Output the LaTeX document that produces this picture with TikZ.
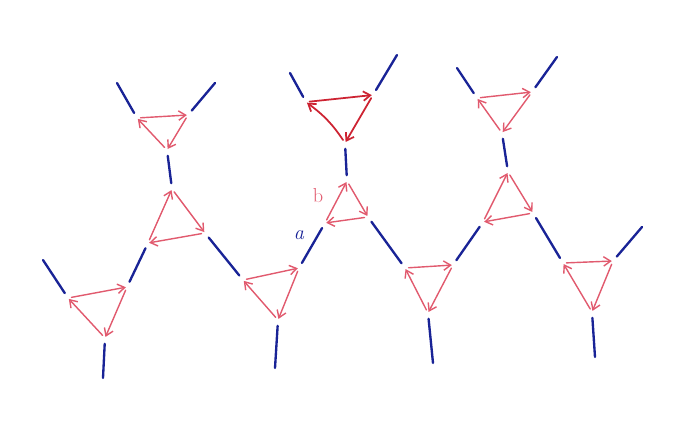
\documentclass[tikz,border=0pt]{standalone}
\usetikzlibrary{arrows.meta}
\definecolor{inkblue}{RGB}{25,35,150}
\definecolor{inkred}{RGB}{225,90,110}
\definecolor{inkdark}{RGB}{205,35,50}

\begin{document}
\begin{tikzpicture}[
  x=0.03cm, y=-0.03cm,
  >={Straight Barb[length=6pt,width=8pt]},
  leg/.style={draw=inkblue, line width=2pt, line cap=round,
              shorten <=5pt, shorten >=5pt},
  flow/.style={->, draw=#1, line width=1.2pt, line cap=round,
               shorten <=3pt, shorten >=1pt},
  flow/.default=inkred,
]
\useasboundingbox (0,0) rectangle (690,435);

% corners of the small triangles, in the order the arrows run
\coordinate (v1-a) at (137,118); \coordinate (v1-b) at (188,115); \coordinate (v1-c) at (167,150);
\coordinate (v2-a) at (148,243); \coordinate (v2-b) at (172,189); \coordinate (v2-c) at (205,233);
\coordinate (v3-a) at (68,298);  \coordinate (v3-b) at (127,287); \coordinate (v3-c) at (105,338);
\coordinate (v4-a) at (243,280); \coordinate (v4-b) at (299,268); \coordinate (v4-c) at (278,320);
\coordinate (v5-a) at (306,102); \coordinate (v5-b) at (373,95);  \coordinate (v5-c) at (345,143);
\coordinate (v6-a) at (325,223); \coordinate (v6-b) at (347,181); \coordinate (v6-c) at (368,217);
\coordinate (v7-a) at (405,268); \coordinate (v7-b) at (453,265); \coordinate (v7-c) at (428,313);
\coordinate (v8-a) at (477,98);  \coordinate (v8-b) at (532,92);  \coordinate (v8-c) at (502,133);
\coordinate (v9-a) at (483,222); \coordinate (v9-b) at (508,172); \coordinate (v9-c) at (533,213);
\coordinate (v10-a) at (563,263); \coordinate (v10-b) at (613,261); \coordinate (v10-c) at (592,312);

% loose ends of the outer legs
\coordinate (e1) at (117,83);  \coordinate (e2) at (215,83);
\coordinate (e3) at (43,260);  \coordinate (e4) at (103,378);
\coordinate (e5) at (275,368); \coordinate (e6) at (290,73);
\coordinate (e7) at (397,55);  \coordinate (e8) at (433,363);
\coordinate (e9) at (457,68);  \coordinate (e10) at (557,57);
\coordinate (e11) at (642,227); \coordinate (e12) at (595,357);

% red cycles
\foreach \tri in {v1,v2,v3,v4,v6,v7,v8,v9,v10}{
  \draw[flow] (\tri-a) -- (\tri-b);
  \draw[flow] (\tri-b) -- (\tri-c);
  \draw[flow] (\tri-c) -- (\tri-a);
}
\draw[flow=inkdark, line width=1.5pt] (v5-a) -- (v5-b);
\draw[flow=inkdark, line width=1.5pt] (v5-b) -- (v5-c);
\draw[flow=inkdark, line width=1.5pt] (v5-c) to[bend right=10] (v5-a);

% blue legs between triangles
\draw[leg] (v1-c) -- (v2-b);
\draw[leg] (v2-a) -- (v3-b);
\draw[leg] (v2-c) -- (v4-a);
\draw[leg] (v4-b) -- (v6-a);
\draw[leg] (v6-b) -- (v5-c);
\draw[leg] (v6-c) -- (v7-a);
\draw[leg] (v7-b) -- (v9-a);
\draw[leg] (v9-b) -- (v8-c);
\draw[leg] (v9-c) -- (v10-a);

% outer legs
\draw[leg, shorten <=0pt] (e1) -- (v1-a);
\draw[leg, shorten <=0pt] (e2) -- (v1-b);
\draw[leg, shorten <=0pt] (e3) -- (v3-a);
\draw[leg, shorten <=0pt] (e4) -- (v3-c);
\draw[leg, shorten <=0pt] (e5) -- (v4-c);
\draw[leg, shorten <=0pt] (e6) -- (v5-a);
\draw[leg, shorten <=0pt] (e7) -- (v5-b);
\draw[leg, shorten <=0pt] (e8) -- (v7-c);
\draw[leg, shorten <=0pt] (e9) -- (v8-a);
\draw[leg, shorten <=0pt] (e10) -- (v8-b);
\draw[leg, shorten <=0pt] (e11) -- (v10-b);
\draw[leg, shorten <=0pt] (e12) -- (v10-c);

\node[text=inkblue, font=\LARGE\itshape] (la) at (299,235) {a};
\node[text=inkred, font=\LARGE] (lb) at (318,196) {b};
\end{tikzpicture}
\end{document}
